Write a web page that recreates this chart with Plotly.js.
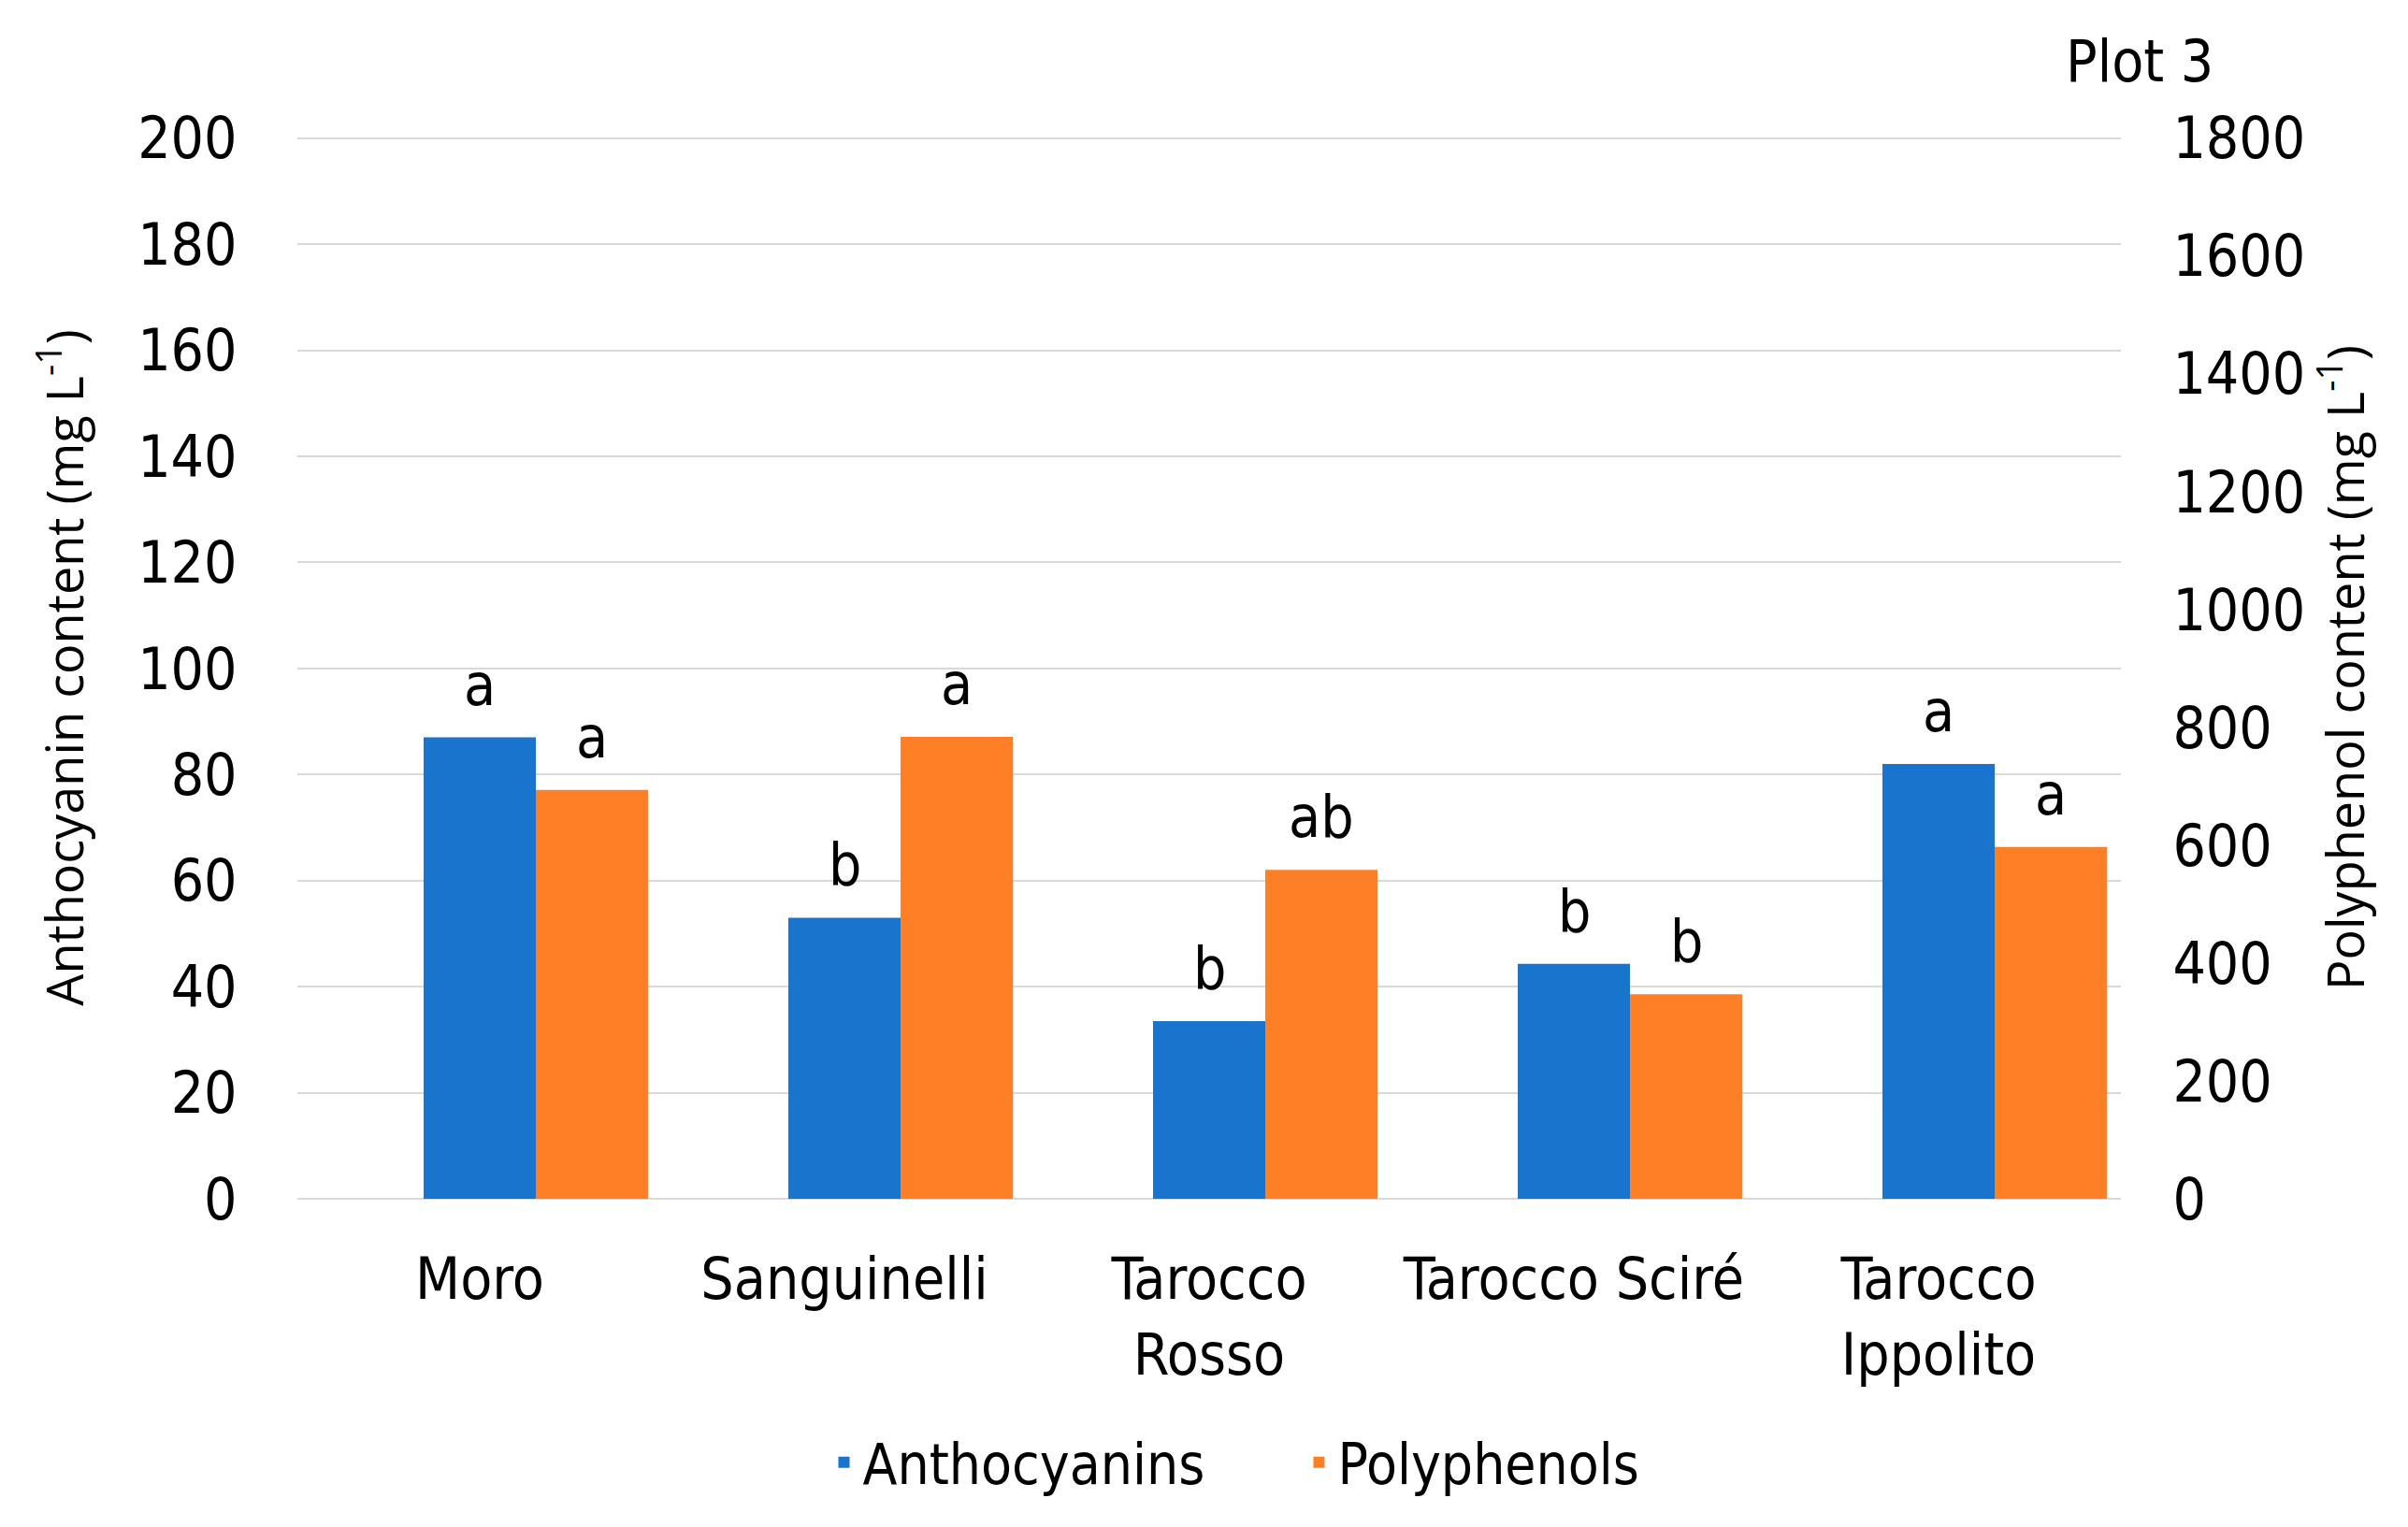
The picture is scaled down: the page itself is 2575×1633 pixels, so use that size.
<!DOCTYPE html>
<html>
<head>
<meta charset="utf-8">
<script src="https://cdn.plot.ly/plotly-3.0.1.min.js"></script>
<style>html,body{margin:0;padding:0;background:#fff;}#chart{width:2575px;height:1633px;}</style>
</head>
<body>
<div id="chart"></div>
<script>
// ---- data ----
const categories = ['Moro', 'Sanguinelli', 'Tarocco Rosso', 'Tarocco Sciré', 'Tarocco Ippolito'];
const tickLabels = ['Moro', 'Sanguinelli', 'Tarocco<br>Rosso', 'Tarocco Sciré', 'Tarocco<br>Ippolito'];
const anthocyanins = [87, 53, 33.5, 44.3, 82];
const polyphenols = [694, 784, 558, 347, 597];
const anthoLetters = ['a', 'b', 'b', 'b', 'a'];
const polyLetters = ['a', 'a', 'ab', 'b', 'a'];
const leftTicks = [0, 20, 40, 60, 80, 100, 120, 140, 160, 180, 200];
const rightTicks = [0, 200, 400, 600, 800, 1000, 1200, 1400, 1600, 1800];

// ---- style ----
const narrow = '"Liberation Sans Narrow", "DejaVu Sans Condensed", Roboto, sans-serif';
const titleFont = '"Open Sans", "Noto Sans", sans-serif';
const blue = '#1874CD';
const orange = '#FF7F27';
const W = 2575, H = 1633;
const margin = {l: 318, r: 307, t: 146, b: 351};
const barW = 0.3077;                 // bar width in category units
const plotW = W - margin.l - margin.r;
const barPx = plotW / categories.length * barW;

const traces = [
  {type: 'bar', name: 'Anthocyanins', x: categories, y: anthocyanins, yaxis: 'y',
   width: barW, offset: -barW / 2, marker: {color: blue}, hoverinfo: 'x+y'},
  {type: 'bar', name: 'Polyphenols', x: categories, y: polyphenols, yaxis: 'y2',
   width: barW, offset: barW / 2, marker: {color: orange}, hoverinfo: 'x+y'}
];

const annotations = [];
categories.forEach((c, i) => {
  annotations.push({x: c, y: anthocyanins[i], xref: 'x', yref: 'y', text: anthoLetters[i],
    showarrow: false, xshift: 0, yanchor: 'bottom', yshift: 18,
    font: {family: narrow, size: 62, color: '#000'}});
  annotations.push({x: c, y: polyphenols[i], xref: 'x', yref: 'y2', text: polyLetters[i],
    showarrow: false, xshift: barPx, yanchor: 'bottom', yshift: 18,
    font: {family: narrow, size: 62, color: '#000'}});
});
annotations.push({x: 1.052, y: 1.071, xref: 'paper', yref: 'paper', text: 'Plot 3',
  showarrow: false, xanchor: 'right', yanchor: 'middle',
  font: {family: narrow, size: 62, color: '#000'}});

const layout = {
  width: W, height: H,
  margin: margin,
  paper_bgcolor: '#fff', plot_bgcolor: '#fff',
  barmode: 'overlay',
  showlegend: true,
  legend: {orientation: 'h', x: 0.550, xanchor: 'center', y: -0.248, yanchor: 'middle',
    font: {family: narrow, size: 60, color: '#000'}, itemwidth: 30, entrywidth: 463,
    tracegroupgap: 0},
  xaxis: {type: 'category', tickvals: categories, ticktext: tickLabels,
    showgrid: false, showline: false, zeroline: false,
    ticks: 'outside', ticklen: 32, tickcolor: 'rgba(0,0,0,0)',
    tickfont: {family: narrow, size: 62, color: '#000'}, fixedrange: true},
  yaxis: {range: [0, 200.3], tickvals: leftTicks, showgrid: true, gridcolor: '#d9d9d9', gridwidth: 2,
    zeroline: true, zerolinecolor: '#d9d9d9', zerolinewidth: 2, showline: false,
    ticks: 'outside', ticklen: 51, tickcolor: 'rgba(0,0,0,0)',
    tickfont: {family: narrow, size: 62, color: '#000'},
    title: {text: 'Anthocyanin content (mg L<sup>-1</sup>)', standoff: 40,
      font: {family: titleFont, size: 54, color: '#000'}}},
  yaxis2: {range: [0, 1802.7], tickvals: rightTicks, overlaying: 'y', side: 'right',
    showgrid: false, zeroline: false, showline: false,
    ticks: 'outside', ticklen: 42, tickcolor: 'rgba(0,0,0,0)',
    tickfont: {family: narrow, size: 62, color: '#000'},
    title: {text: 'Polyphenol content (mg L<sup>-1</sup>)', standoff: 0,
      font: {family: titleFont, size: 54, color: '#000'}}},
  annotations: annotations
};

Plotly.newPlot('chart', traces, layout, {displayModeBar: false, responsive: false});
</script>
</body>
</html>
